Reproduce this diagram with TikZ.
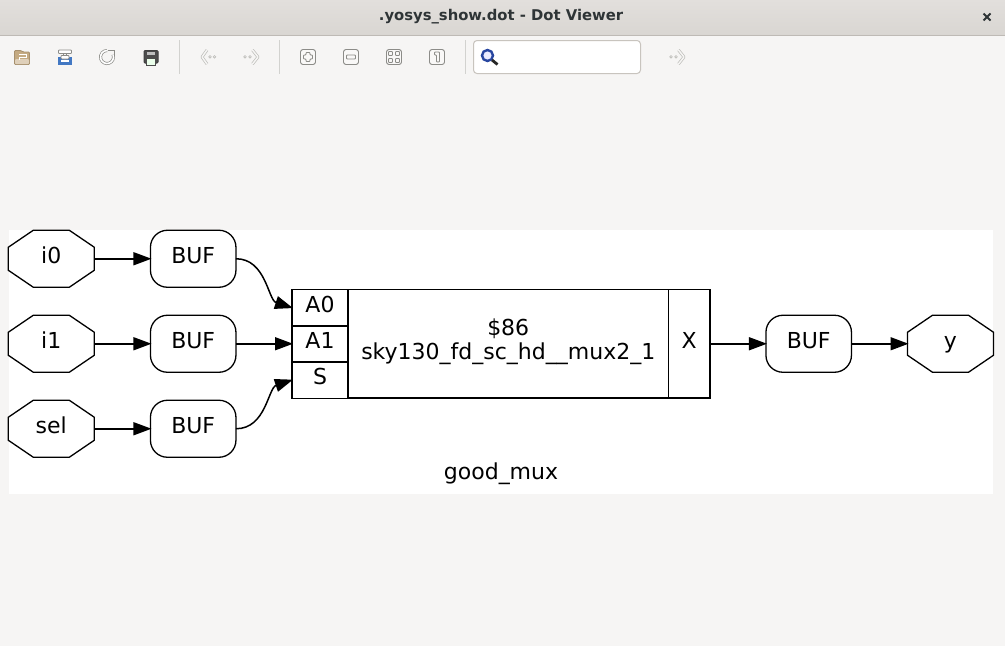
\documentclass[tikz,border=0pt]{standalone}
\usepackage{fontspec}
\setmainfont{DejaVu Sans}
\usetikzlibrary{arrows.meta}
\definecolor{windowbg}{RGB}{246,245,244}
\definecolor{titletop}{RGB}{226,223,220}
\definecolor{titlebot}{RGB}{217,214,210}
\definecolor{titleline}{RGB}{190,186,181}
\definecolor{titletext}{RGB}{46,52,54}
\definecolor{iconline}{RGB}{140,140,136}
\definecolor{iconfaint}{RGB}{190,190,186}
\definecolor{boxline}{RGB}{200,196,190}
\definecolor{foldertan}{RGB}{196,170,130}
\definecolor{trayblue}{RGB}{66,120,195}
\definecolor{lensblue}{RGB}{40,70,160}

\begin{document}
\begin{tikzpicture}[
    x=1pt,
    y=-1pt,
    wire/.style={
      line width=1.5pt,
      -{Triangle[length=18pt,width=13pt]},
      shorten >=-1pt
    },
    label font/.style={
      inner sep=0pt,
      outer sep=0pt,
      font=\fontsize{22}{24}\selectfont,
      text height=16pt,
      text depth=7pt
    },
    port/.style={
      label font,
      rectangle,
      minimum width=86pt,
      minimum height=57pt,
      append after command={
        \pgfextra{
          \draw[line width=1.3pt]
            ([xshift=25pt]\tikzlastnode.north west)
            -- ([xshift=-25pt]\tikzlastnode.north east)
            -- ([yshift=-17pt]\tikzlastnode.north east)
            -- ([yshift=17pt]\tikzlastnode.south east)
            -- ([xshift=-25pt]\tikzlastnode.south east)
            -- ([xshift=25pt]\tikzlastnode.south west)
            -- ([yshift=17pt]\tikzlastnode.south west)
            -- ([yshift=-17pt]\tikzlastnode.north west)
            -- cycle;
        }
      }
    },
    buffer/.style={
      label font,
      rectangle,
      draw,
      rounded corners=17pt,
      line width=1.3pt,
      minimum width=85.5pt,
      minimum height=57pt
    },
    cell/.style={
      label font,
      rectangle,
      draw,
      line width=1.3pt
    },
    icon/.style={
      iconline,
      line width=.9pt,
      rounded corners=.8pt
    },
    chevron/.style={
      iconfaint,
      line width=.7pt,
      double=windowbg,
      double distance=1.5pt
    },
    separator/.style={
      iconfaint!70!white,
      line width=1pt
    }
]
\useasboundingbox (0,0) rectangle (1005,646);

% Window frame and title bar.
\fill[windowbg] (0,0) rectangle (1005,646);
\shade[top color=titletop,bottom color=titlebot] (0,0) rectangle (1005,35);
\draw[titleline,line width=1pt] (0,35.5) -- (1005,35.5);
\node[
  text=titletext,
  font=\fontsize{14.8}{16}\bfseries\selectfont
] (title) at (501,17) {.yosys\_show.dot - Dot Viewer};
\draw[titletext,line width=2pt] (983.5,13.5) -- (990.5,20.5) (990.5,13.5) -- (983.5,20.5);

% Toolbar separators and search box.
\foreach \x in {179.5,279.5,465.5}
  \draw[separator] (\x,40) -- (\x,74);
\draw[boxline,fill=white,line width=1pt,rounded corners=3.5pt]
  (473.5,40.5) rectangle (640.5,73.5);
\draw[lensblue,line width=2.4pt,fill=blue!8!white] (487.5,55.5) circle (5.5pt);
\draw[black!85,line width=2.8pt] (492,60) -- (497.5,64.5);

% Toolbar icons: open, reload, print, save.
\draw[fill=foldertan,draw=foldertan!85!black,line width=.8pt,rounded corners=1pt]
  (14.5,50.5) -- (21,50.5) -- (23,52) -- (29.5,52) -- (29.5,64.5) -- (14.5,64.5) -- cycle;
\fill[foldertan!55!white,rounded corners=1pt] (15,59) rectangle (29,64);
\draw[white,line width=.9pt] (19,54) -- (26,54) -- (26,57) -- (19,57) -- (19,60);
\draw[trayblue,fill=trayblue,line width=.8pt] (58.5,57.5) rectangle (71.5,64.5);
\fill[white] (61,60) rectangle (69,61.5);
\draw[icon,fill=white] (58.5,50) rectangle (71.5,53.5);
\draw[icon,fill=white] (63.5,53.5) rectangle (66.5,59);
\draw[icon,fill=white] (61,55.5) rectangle (69,59);
\draw[iconline,line width=.7pt,double=white,double distance=1.6pt]
  (113.1,54.8) arc (20:-270:6.5pt);
\draw[iconline,line width=1pt] (107.5,50) -- (114,50) -- (114,55.5);
\draw[black!75,fill=black!70,line width=1pt,rounded corners=1pt]
  (144,50.5) rectangle (158,63);
\fill[black!25] (147,51.5) rectangle (155,54.5);
\draw[black!70,fill=green!8!white,line width=1pt] (146.5,58) rectangle (155.5,65);

% Toolbar icons: back and forward.
\draw[chevron,rounded corners=.5pt] (207,50) -- (202,57) -- (207,64);
\draw[chevron,rounded corners=.5pt] (252.5,50) -- (258,57) -- (252.5,64);
\draw[chevron,rounded corners=.5pt] (678.5,50) -- (684,57) -- (678.5,64);
\foreach \x in {210,214.5,245,250,671,676}
  \draw[iconfaint,line width=.7pt] (\x,56.8) circle (1.3pt);

% Toolbar icons: zoom buttons.
\foreach \x in {308,351,394,437}
  \draw[icon,fill=windowbg!70!white,rounded corners=2.5pt] (\x-7.5,49.5) rectangle (\x+7.5,64.5);
\draw[icon] (306,52.5) -- (310,52.5) -- (310,55) -- (312.5,55) -- (312.5,59) -- (310,59)
  -- (310,61.5) -- (306,61.5) -- (306,59) -- (303.5,59) -- (303.5,55) -- (306,55) -- cycle;
\draw[icon] (346.5,55) rectangle (355.5,59);
\foreach \x/\y in {390.5/53.5,397.5/53.5,390.5/60.5,397.5/60.5}
  \draw[icon,line width=.8pt] (\x-2,\y-2) rectangle (\x+2,\y+2);
\draw[icon] (434.5,52) -- (439.5,52) -- (439.5,62) -- (436.5,62) -- (436.5,55) -- (434.5,55) -- cycle;

% Canvas.
\fill[white] (9,230) rectangle (993,493.5);

% Input ports and their buffers.
\foreach \name/\lab/\y in {i0/i0/258.75,i1/i1/343.75,sel/sel/428.75}{
  \node[port] (\name) at (51.3,\y) {\lab};
  \node[buffer] (buf\name) at (193.2,\y) {BUF};
  \draw[wire] (\name) -- (buf\name);
}

% Mux cell.
\node[cell,minimum width=56pt,minimum height=36.5pt] (A0) at (320,307.75) {A0};
\node[cell,minimum width=56pt,minimum height=36.5pt] (A1) at (320,343.75) {A1};
\node[cell,minimum width=56pt,minimum height=36.5pt] (S) at (320,380) {S};
\node[
  cell,
  minimum width=320.5pt,
  minimum height=108.5pt,
  align=center,
  text height=40pt,
  text depth=8pt
] (mux) at (508.25,343.75) {\$86\\sky130\_fd\_sc\_hd\_\_mux2\_1};
\node[cell,minimum width=41.5pt,minimum height=108.5pt] (X) at (689.25,343.75) {X};

% Output side.
\node[buffer] (bufy) at (808.7,343.75) {BUF};
\node[port] (y) at (950.5,343.75) {y};
\node[font=\fontsize{22}{24}\selectfont] (top) at (501,474) {good\_mux};

% Connections.
\draw[wire] (bufi0.east) .. controls (266,258.75) and (268,300) .. (A0.west);
\draw[wire] (bufi1) -- (A1);
\draw[wire] (bufsel.east) .. controls (266,428.75) and (268,388) .. (S.west);
\draw[wire] (X) -- (bufy);
\draw[wire] (bufy) -- (y);

\end{tikzpicture}
\end{document}
